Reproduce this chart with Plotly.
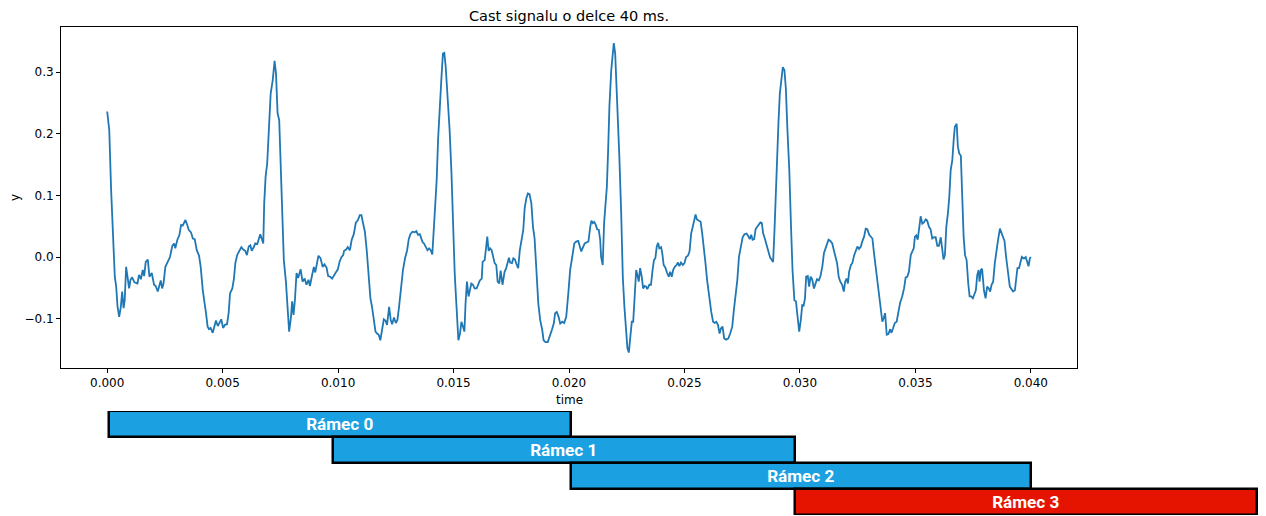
import plotly.graph_objects as go

# ---- signal (time in ms, amplitude) ----
time_ms = [
 0.00,0.09,0.17,0.27,0.33,0.39,0.45,0.52,0.59,0.65,0.71,0.76,0.82,0.88,0.95,1.01,1.08,1.18,1.31,1.38,
 1.46,1.54,1.60,1.67,1.76,1.83,1.93,2.03,2.10,2.19,2.26,2.32,2.38,2.44,2.52,2.62,2.72,2.82,2.90,2.95,
 3.04,3.13,3.20,3.27,3.39,3.47,3.53,3.63,3.71,3.79,3.88,3.98,4.05,4.14,4.21,4.28,4.35,4.41,4.48,4.57,
 4.64,4.71,4.79,4.86,4.94,5.02,5.10,5.19,5.26,5.32,5.42,5.49,5.55,5.63,5.72,5.81,5.89,5.98,6.05,6.13,
 6.20,6.26,6.36,6.41,6.50,6.57,6.63,6.69,6.76,
 6.80,6.86,6.93,7.01,7.08,7.17,7.25,7.31,7.38,7.45,7.52,7.58,7.65,7.74,7.81,7.88,7.96,8.01,8.07,8.13,
 8.20,8.27,8.38,8.46,8.55,8.63,8.72,8.78,8.86,8.95,9.01,9.08,9.15,9.24,9.33,9.41,9.50,9.57,9.66,9.74,
 9.82,9.90,9.99,10.06,10.15,10.22,10.26,10.35,10.42,10.51,10.59,10.68,10.77,10.85,10.94,11.01,11.08,
 11.16,11.24,11.33,11.40,11.47,11.55,11.62,11.69,11.76,11.83,11.91,11.98,12.05,12.12,12.21,12.28,12.34,
 12.42,12.50,12.57,12.64,12.73,12.81,12.90,12.99,13.06,13.13,13.22,13.32,13.39,13.46,
 13.54,13.61,13.66,13.72,13.79,13.87,13.94,14.01,14.08,14.14,14.20,14.27,14.33,14.40,14.47,14.54,14.60,
 14.66,14.75,14.83,14.91,14.98,15.05,15.12,15.21,15.28,15.34,15.41,15.47,15.52,15.58,15.65,15.71,15.77,
 15.84,15.91,16.00,16.07,16.14,16.22,16.26,16.35,16.40,16.46,16.52,16.58,16.65,16.71,16.78,16.85,16.91,
 16.98,17.04,17.12,17.21,17.28,17.34,17.40,17.45,17.53,17.59,17.66,17.72,17.80,17.87,17.95,18.02,18.08,
 18.15,18.22,18.29,18.37,18.44,18.51,18.58,18.67,18.75,18.84,18.90,18.98,19.08,19.17,19.26,19.34,19.40,
 19.47,19.55,19.62,19.71,19.79,19.88,19.97,20.05,20.14,20.23,20.31,20.40,
 20.53,20.60,20.68,20.77,20.84,20.92,20.97,21.03,21.09,21.16,21.22,21.29,21.35,21.39,21.46,21.52,21.58,
 21.64,21.70,21.75,21.83,21.88,21.94,22.00,22.05,22.13,22.18,22.26,22.33,22.40,22.47,22.53,22.59,22.66,
 22.72,22.78,22.83,22.91,22.96,23.02,23.08,23.15,23.21,23.28,23.34,23.39,23.48,23.55,23.62,23.68,23.74,
 23.80,23.86,23.91,23.99,24.04,24.10,24.17,24.25,24.32,24.38,24.45,24.51,24.58,24.66,24.72,24.78,24.85,
 24.93,25.00,25.07,25.15,25.22,25.29,25.36,25.42,25.48,25.54,25.61,25.70,25.77,25.84,25.91,25.98,26.05,
 26.10,26.16,26.24,26.31,26.38,26.45,26.52,26.58,26.65,26.72,26.81,26.90,26.98,27.07,27.14,27.21,27.29,
 27.36,
 27.45,27.52,27.60,27.69,27.76,27.83,27.89,27.95,28.02,28.08,28.15,28.22,28.29,28.35,28.41,28.48,28.54,
 28.60,28.66,28.71,28.77,28.84,28.90,28.96,29.02,29.07,29.13,29.20,29.26,29.33,29.39,29.46,29.54,29.61,
 29.68,29.76,29.83,29.90,29.97,30.04,30.10,30.16,30.22,30.27,30.34,30.40,30.46,30.53,30.61,30.66,30.74,
 30.82,30.89,30.97,31.04,31.11,31.17,31.24,31.32,31.40,31.47,31.54,31.61,31.68,31.75,31.83,31.90,31.96,
 32.02,32.08,32.13,32.21,32.27,32.35,32.42,32.49,32.56,32.64,32.70,32.78,32.85,32.92,33.00,33.07,33.14,
 33.21,33.30,33.35,33.43,33.50,33.57,33.63,33.69,33.76,33.83,33.91,33.96,34.03,34.11,34.19,34.26,34.34,
 34.43,34.51,34.58,34.65,34.72,34.80,34.87,34.93,34.98,35.04,35.10,35.16,35.23,35.30,35.37,35.45,35.51,
 35.59,35.66,35.73,35.81,35.88,35.95,36.02,36.10,36.16,36.22,36.28,36.34,36.41,36.47,36.53,36.60,36.66,
 36.71,36.79,36.84,36.90,36.97,37.03,37.09,37.15,37.22,37.29,37.35,37.42,37.49,37.56,37.62,37.68,37.74,
 37.78,37.84,37.89,37.97,38.04,38.11,38.18,38.24,38.30,38.37,38.44,38.50,38.57,38.66,38.73,38.80,38.86,
 38.93,39.00,39.09,39.16,39.23,39.31,39.36,39.42,39.49,39.55,39.61,39.67,39.72,39.78,39.84,39.90,39.96,
 40.00,
]

amplitude = [
 0.236,0.206,0.109,0.000,-0.032,-0.048,-0.081,-0.097,-0.081,-0.056,-0.083,-0.070,-0.016,-0.032,-0.051,-0.037,-0.033,-0.041,-0.043,-0.029,
 -0.036,-0.021,-0.031,-0.008,-0.004,-0.032,-0.026,-0.045,-0.047,-0.056,-0.043,-0.038,-0.051,-0.043,-0.016,-0.008,0.000,0.018,0.022,0.014,
 0.028,0.036,0.052,0.051,0.060,0.052,0.044,0.040,0.030,0.029,0.011,0.002,-0.016,-0.054,-0.070,-0.091,-0.113,-0.117,-0.115,-0.123,
 -0.113,-0.103,-0.112,-0.106,-0.101,-0.115,-0.110,-0.109,-0.091,-0.059,-0.051,-0.035,-0.010,0.003,0.010,0.016,0.012,0.010,0.003,0.017,
 0.019,0.010,0.017,0.022,0.021,0.030,0.037,0.030,0.022,
 0.087,0.130,0.152,0.211,0.265,0.287,0.318,0.298,0.233,0.222,0.152,0.065,-0.005,-0.040,-0.091,-0.121,-0.097,-0.072,-0.094,-0.070,
 -0.026,-0.034,-0.020,-0.040,-0.035,-0.045,-0.037,-0.047,-0.032,-0.016,-0.025,-0.010,0.002,-0.002,-0.016,-0.012,-0.017,-0.031,-0.032,-0.035,
 -0.031,-0.025,-0.020,-0.008,0.000,0.003,0.010,0.012,0.016,0.011,0.028,0.037,0.056,0.059,0.068,0.068,0.055,
 0.041,0.011,-0.026,-0.067,-0.081,-0.102,-0.121,-0.124,-0.126,-0.135,-0.116,-0.101,-0.103,-0.110,-0.081,-0.102,-0.109,
 -0.098,-0.107,-0.102,-0.081,-0.048,-0.021,-0.002,0.011,0.029,0.037,0.041,0.040,0.042,0.036,
 0.037,0.030,0.024,0.022,0.017,0.011,0.014,0.011,0.004,0.044,0.098,0.125,0.190,0.249,0.287,0.330,0.331,
 0.309,0.260,0.206,0.136,0.044,-0.026,-0.075,-0.135,-0.124,-0.105,-0.113,-0.121,-0.075,-0.040,-0.064,-0.054,-0.043,
 -0.045,-0.051,-0.051,-0.043,-0.038,-0.035,-0.008,-0.005,0.017,0.033,0.010,0.014,0.011,0.000,-0.010,-0.013,-0.040,
 -0.043,-0.022,-0.045,-0.024,-0.018,-0.010,-0.001,-0.009,-0.010,-0.002,-0.004,-0.011,-0.018,0.011,0.028,0.044,0.079,
 0.095,0.103,0.102,0.087,0.049,0.030,-0.021,-0.075,-0.102,-0.118,-0.135,-0.138,-0.138,-0.129,-0.118,-0.108,-0.091,
 -0.089,-0.097,-0.108,-0.105,-0.107,-0.097,-0.059,-0.021,0.000,0.022,0.025,0.026,
 0.009,0.014,0.022,0.024,0.025,0.049,0.059,0.055,0.057,0.052,0.045,0.044,0.028,0.000,-0.013,0.055,0.087,
 0.114,0.179,0.244,0.303,0.330,0.347,0.330,0.287,0.233,0.163,0.071,-0.032,-0.081,-0.118,-0.148,-0.155,-0.124,
 -0.105,-0.105,-0.075,-0.021,-0.029,-0.040,-0.018,-0.032,-0.051,-0.047,-0.048,-0.052,-0.045,-0.045,-0.021,-0.005,-0.002,
 0.017,0.023,0.014,0.016,0.006,-0.013,-0.017,-0.026,-0.032,-0.024,-0.032,-0.021,-0.016,-0.013,-0.009,-0.015,-0.009,
 -0.013,-0.010,0.000,0.002,0.009,0.038,0.049,0.059,0.069,0.061,0.059,0.057,0.038,0.017,-0.010,-0.037,-0.059,
 -0.067,-0.089,-0.105,-0.107,-0.105,-0.110,-0.124,-0.116,-0.113,-0.132,-0.134,-0.132,-0.124,-0.113,-0.086,-0.062,-0.037,
 0.000,
 0.022,0.032,0.037,0.038,0.034,0.029,0.036,0.028,0.029,0.045,0.049,0.052,0.056,0.055,0.038,0.030,0.022,
 0.011,0.006,-0.001,-0.004,-0.008,0.044,0.114,0.163,0.217,0.265,0.287,0.308,0.303,0.274,0.206,0.141,0.055,
 -0.021,-0.070,-0.072,-0.097,-0.121,-0.102,-0.078,-0.079,-0.067,-0.032,-0.031,-0.048,-0.032,-0.036,-0.051,-0.045,-0.036,
 -0.038,-0.031,-0.016,0.006,0.014,0.022,0.028,0.026,0.022,0.011,0.000,-0.010,-0.032,-0.040,-0.045,-0.056,-0.040,
 -0.035,-0.043,-0.024,-0.013,-0.010,0.003,0.011,0.017,0.013,0.017,0.025,0.033,0.046,0.045,0.036,0.033,0.030,
 0.006,-0.021,-0.045,-0.064,-0.081,-0.105,-0.099,-0.091,-0.126,-0.125,-0.117,-0.123,-0.116,-0.107,-0.105,-0.091,-0.074,
 -0.064,-0.051,-0.033,-0.032,-0.024,0.003,0.009,0.014,0.033,0.035,0.028,0.044,0.066,0.054,0.056,0.061,0.059,
 0.049,0.045,0.030,0.032,0.032,0.018,0.018,0.032,0.014,-0.004,0.003,0.049,0.071,0.098,0.141,0.157,0.190,
 0.211,0.216,0.179,0.168,0.164,0.098,0.033,0.003,-0.005,-0.043,-0.064,-0.064,-0.067,-0.060,-0.054,-0.029,-0.021,
 -0.040,-0.021,-0.019,-0.054,-0.067,-0.048,-0.051,-0.056,-0.045,-0.040,-0.010,0.011,0.025,0.046,0.038,0.030,0.026,
 0.000,-0.021,-0.048,-0.052,-0.056,-0.054,-0.032,-0.018,-0.018,-0.008,0.000,-0.002,-0.002,0.000,-0.007,-0.015,-0.002,
 0.000,
]

time_s = [t / 1000.0 for t in time_ms]

# ---- frames ----
frame_labels = ["Rámec 0", "Rámec 1", "Rámec 2", "Rámec 3"]
frame_start_s = [0.0001, 0.0098, 0.0201, 0.0298]
frame_end_s = [0.0201, 0.0298, 0.0400, 0.0498]
frame_rows = [0, 1, 2, 3]
frame_colors = ["#1ba1e2", "#1ba1e2", "#1ba1e2", "#e51400"]

x_ticks = [0.000, 0.005, 0.010, 0.015, 0.020, 0.025, 0.030, 0.035, 0.040]
y_ticks = [-0.1, 0.0, 0.1, 0.2, 0.3]

# page body has an 8px margin, so the figure is drawn 8px in from the window corner
W, H = 1258, 508
L, R, T, B = 53, 1069, 19, 360       # main plot box in figure px
x_range = [-0.002, 0.042]
px_per_s = (R - L) / (x_range[1] - x_range[0])

fig = go.Figure()
fig.add_trace(go.Scatter(
    x=time_s, y=amplitude, mode="lines",
    line=dict(color="#1f77b4", width=1.8), showlegend=False,
    xaxis="x", yaxis="y",
))

fig.add_trace(go.Bar(
    orientation="h",
    base=frame_start_s,
    x=[e - s for s, e in zip(frame_start_s, frame_end_s)],
    y=frame_rows,
    width=1,
    marker=dict(color=frame_colors, line=dict(color="black", width=2.5)),
    text=frame_labels,
    textposition="inside",
    insidetextanchor="middle",
    textangle=0,
    textfont=dict(family="Roboto, Liberation Sans, Arial", size=18,
                  color="white", weight="bold"),
    cliponaxis=False,
    showlegend=False,
    hoverinfo="skip",
    xaxis="x2", yaxis="y2",
))

axis_font = dict(family="DejaVu Sans", size=12, color="black")

fig.update_layout(
    width=W, height=H,
    margin=dict(l=0, r=0, t=0, b=0),
    paper_bgcolor="white", plot_bgcolor="white",
    showlegend=False,
    bargap=0,
    xaxis=dict(
        domain=[L / W, R / W], range=x_range, anchor="y",
        tickvals=x_ticks, tickformat=".3f",
        ticks="outside", ticklen=4, tickwidth=1, tickcolor="black",
        showline=True, linecolor="black", linewidth=1, mirror=True,
        showgrid=False, zeroline=False, tickfont=axis_font,
    ),
    yaxis=dict(
        domain=[(H - B) / H, (H - T) / H], range=[-0.180, 0.373], anchor="x",
        tickvals=y_ticks, tickformat=".1f",
        ticks="outside", ticklen=4, tickwidth=1, tickcolor="black",
        showline=True, linecolor="black", linewidth=1, mirror=True,
        showgrid=False, zeroline=False, tickfont=axis_font,
    ),
    xaxis2=dict(
        domain=[L / W, 1.0],
        range=[x_range[0], x_range[0] + (W - L) / px_per_s],
        anchor="y2", visible=False,
    ),
    yaxis2=dict(
        domain=[(H - 507) / H, (H - 403) / H],
        range=[3.5, -0.5], anchor="x2", visible=False,
    ),
    annotations=[
        dict(text="Cast signalu o delce 40 ms.", xref="paper", yref="paper",
             x=(L + R) / 2 / W, y=(H - 8.5) / H, xanchor="center", yanchor="middle",
             showarrow=False, borderpad=0,
             font=dict(family="DejaVu Sans", size=14.5, color="black")),
        dict(text="time", xref="paper", yref="paper",
             x=(L + R) / 2 / W, y=(H - 392) / H, xanchor="center", yanchor="middle",
             showarrow=False, font=axis_font),
        dict(text="y", xref="paper", yref="paper",
             x=7 / W, y=(H - 189) / H, xanchor="center", yanchor="middle",
             textangle=-90, showarrow=False, borderpad=0, font=axis_font),
    ],
)

fig.write_html("out.html")
